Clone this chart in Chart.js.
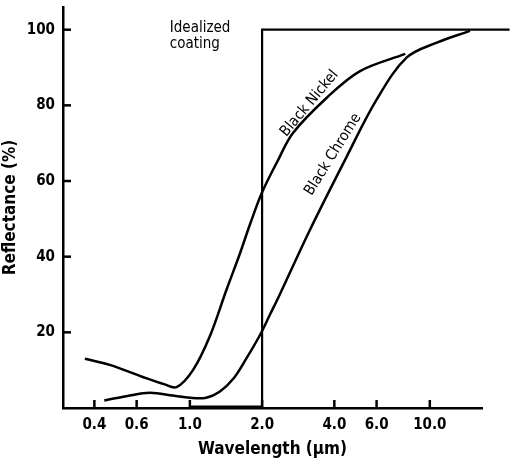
<!DOCTYPE html>
<html>
<head>
<meta charset="utf-8">
<script src="https://cdn.jsdelivr.net/npm/chart.js@4/dist/chart.umd.min.js"></script>
<style>
  html, body { margin: 0; padding: 0; background: #fff; }
  #wrap { width: 510px; height: 460px; }
</style>
</head>
<body>
<div id="wrap"><canvas id="c" width="510" height="460"></canvas></div>
<script>
// reflectance vs wavelength (log x axis)
const xTicks = [0.4, 0.6, 1.0, 2.0, 4.0, 6.0, 10.0];
const xTickLabels = ['0.4', '0.6', '1.0', '2.0', '4.0', '6.0', '10.0'];
const yTicks = [20, 40, 60, 80, 100];

const nickelX = [0.365, 0.464, 0.637, 0.78, 0.88, 1.03, 1.21, 1.42, 1.61, 1.78, 2.0, 2.33, 2.69, 3.72, 5.1, 7.9];
const nickelY = [13, 11.4, 8.2, 6.3, 5.5, 10, 18.9, 31.2, 40.5, 48.5, 57, 65.5, 72.7, 82, 89, 93.6];

const chromeX = [0.44, 0.55, 0.68, 0.85, 1.0, 1.17, 1.33, 1.52, 1.72, 1.96, 2.15, 2.37, 3.16, 4.5, 6.0, 8.0, 10.7, 14.7];
const chromeY = [2.0, 3.2, 4.0, 3.3, 2.7, 2.7, 4.3, 7.8, 13.1, 19.3, 24.5, 30, 47, 66.4, 81.5, 92.6, 96.6, 99.7];

const idealX = [1.0, 2.0, 2.0, 21.5];
const idealY = [0.4, 0.4, 100, 100];

const FONT = '"DejaVu Sans Condensed", "DejaVu Sans", sans-serif';

const pts = (xs, ys) => xs.map((x, i) => ({ x, y: ys[i] }));

// curve labels, placed in data coordinates
const notes = [
  { text: ['Idealized', 'coating'], x: 0.825, y: 100.5, rot: 0, align: 'left' },
  { text: ['Black Nickel'], x: 3.15, y: 80.5, rot: -50, align: 'center' },
  { text: ['Black Chrome'], x: 3.95, y: 67, rot: -58, align: 'center' }
];

const notePlugin = {
  id: 'notes',
  afterDatasetsDraw(chart) {
    const { ctx, scales: { x, y } } = chart;
    ctx.save();
    ctx.fillStyle = '#000';
    ctx.font = '15px ' + FONT;
    ctx.textBaseline = 'middle';
    notes.forEach(n => {
      ctx.save();
      ctx.translate(x.getPixelForValue(n.x), y.getPixelForValue(n.y));
      ctx.rotate(n.rot * Math.PI / 180);
      ctx.textAlign = n.align;
      n.text.forEach((t, i) => ctx.fillText(t, 0, i * 16));
      ctx.restore();
    });
    // inward tick marks
    ctx.strokeStyle = '#000';
    ctx.lineWidth = 2.5;
    const area = chart.chartArea;
    xTicks.forEach(v => {
      const px = x.getPixelForValue(v);
      ctx.beginPath(); ctx.moveTo(px, area.bottom); ctx.lineTo(px, area.bottom - 8); ctx.stroke();
    });
    yTicks.forEach(v => {
      const py = y.getPixelForValue(v);
      ctx.beginPath(); ctx.moveTo(area.left, py); ctx.lineTo(area.left + 8, py); ctx.stroke();
    });
    ctx.restore();
  }
};

const lineDs = (label, data, extra) => Object.assign({
  label, data,
  borderColor: '#000', borderWidth: 2.5,
  pointRadius: 0, fill: false,
  tension: 0.35
}, extra || {});

new Chart(document.getElementById('c'), {
  type: 'line',
  data: {
    datasets: [
      lineDs('Black Nickel', pts(nickelX, nickelY)),
      lineDs('Black Chrome', pts(chromeX, chromeY)),
      lineDs('Idealized coating', pts(idealX, idealY), { tension: 0, clip: false, borderWidth: 2.2 })
    ]
  },
  options: {
    responsive: false,
    animation: false,
    layout: { padding: { left: 0, right: 28, top: 7, bottom: 0 } },
    plugins: { legend: { display: false }, tooltip: { enabled: false } },
    scales: {
      x: {
        type: 'logarithmic',
        min: 0.296, max: 16.5,
        afterBuildTicks: s => { s.ticks = xTicks.map(v => ({ value: v })); },
        afterFit: s => { s.height = 52; s.paddingLeft = 0; s.paddingRight = 0; },
        grid: { display: false, drawTicks: false },
        border: { display: true, color: '#000', width: 2.5 },
        ticks: {
          color: '#000', padding: 8, maxRotation: 0, autoSkip: false,
          font: { family: FONT, size: 15, weight: 'bold' },
          callback: (v) => { const i = xTicks.indexOf(v); return i >= 0 ? xTickLabels[i] : ''; }
        },
        title: {
          display: true, text: 'Wavelength (μm)', color: '#000',
          font: { family: FONT, size: 17, weight: 'bold' }, padding: { top: 2, bottom: 0 }
        }
      },
      y: {
        min: 0, max: 106,
        afterBuildTicks: s => { s.ticks = yTicks.map(v => ({ value: v })); },
        afterFit: s => { s.width = 63; s.paddingTop = 0; s.paddingBottom = 0; },
        grid: { display: false, drawTicks: false },
        border: { display: true, color: '#000', width: 2.5 },
        ticks: {
          color: '#000', padding: 8,
          font: { family: FONT, size: 15, weight: 'bold' }
        },
        title: {
          display: true, text: 'Reflectance (%)', color: '#000',
          font: { family: FONT, size: 17, weight: 'bold' }, padding: { top: 0, bottom: 0 }
        }
      }
    }
  },
  plugins: [notePlugin]
});
</script>
</body>
</html>
